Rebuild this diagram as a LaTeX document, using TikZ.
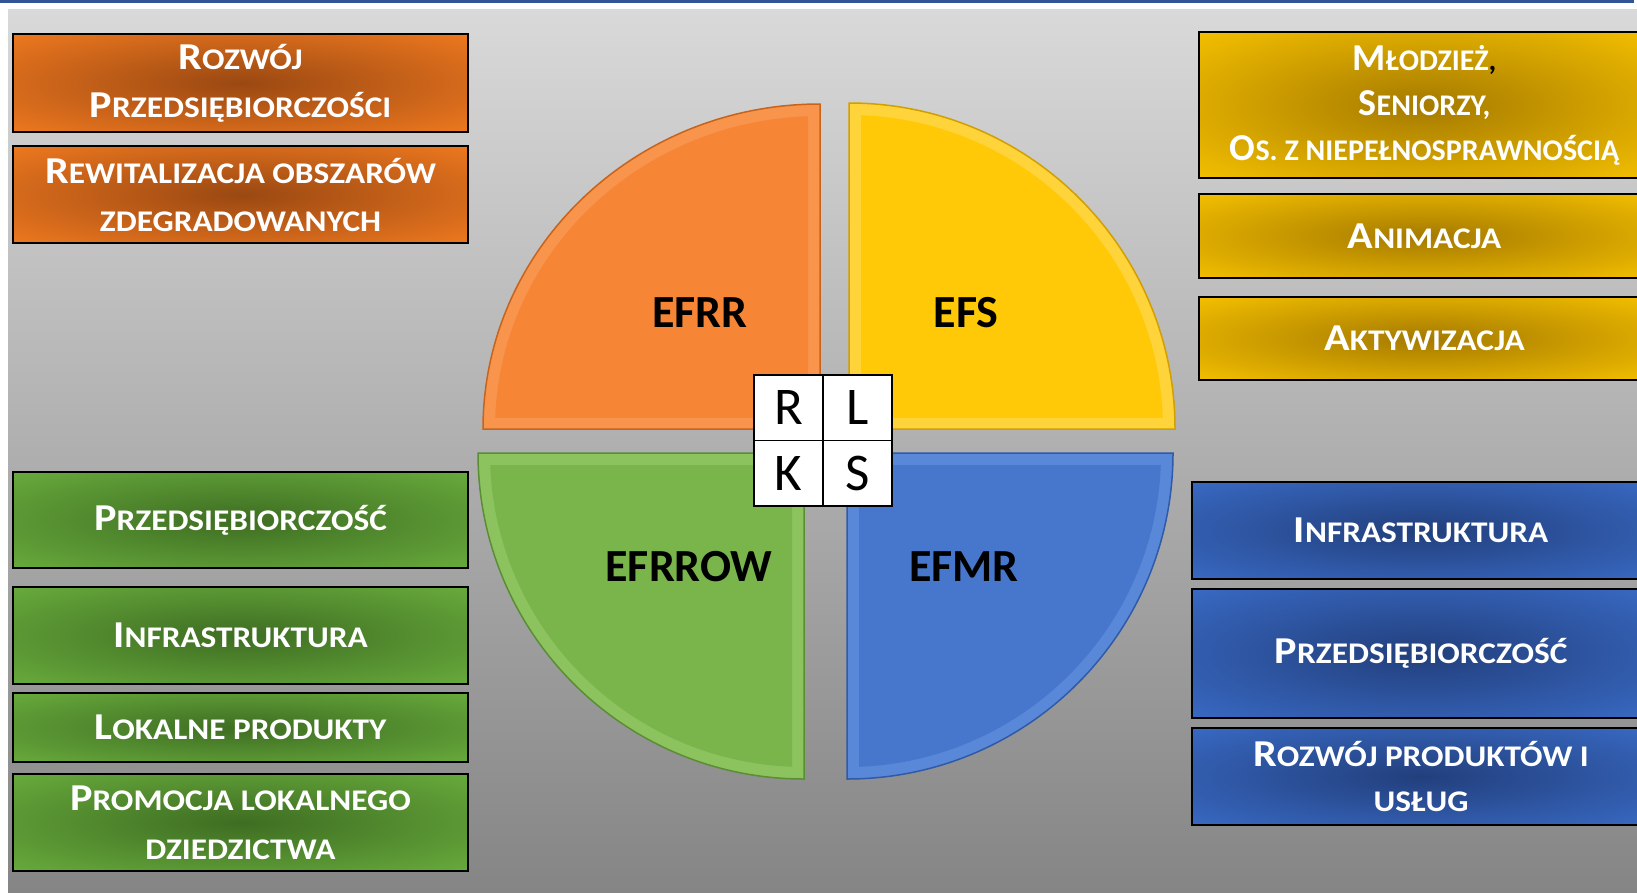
\documentclass[tikz,border=0pt]{standalone}
\usepackage{fontspec}
\setmainfont{Carlito}
\newfontfamily\boxfont[FakeStretch=1.11]{Carlito}

\definecolor{bgTop}{HTML}{D9D9D9}
\definecolor{bgBottom}{HTML}{858585}
\definecolor{topLine}{HTML}{2F5597}

\definecolor{orangeLight}{HTML}{F47C20}
\definecolor{orangeDark}{HTML}{9A4812}
\definecolor{yellowLight}{HTML}{F9C400}
\definecolor{yellowDark}{HTML}{A57A00}
\definecolor{greenLight}{HTML}{6BAF3E}
\definecolor{greenDark}{HTML}{3E6D22}
\definecolor{blueLight}{HTML}{3A6CC8}
\definecolor{blueDark}{HTML}{223F7C}

\definecolor{orangeFace}{HTML}{F68536}
\definecolor{orangeRim}{HTML}{F8944C}
\definecolor{orangeEdge}{HTML}{C8631C}
\definecolor{yellowFace}{HTML}{FFC907}
\definecolor{yellowRim}{HTML}{FFD33A}
\definecolor{yellowEdge}{HTML}{D29F00}
\definecolor{greenFace}{HTML}{79B54B}
\definecolor{greenRim}{HTML}{8CC35F}
\definecolor{greenEdge}{HTML}{5A8E35}
\definecolor{blueFace}{HTML}{4677CD}
\definecolor{blueRim}{HTML}{5A88D8}
\definecolor{blueEdge}{HTML}{2E5AA8}

\pgfdeclareradialshading{orangeGlow}{\pgfpoint{0bp}{0bp}}{color(0bp)=(orangeDark); color(38bp)=(orangeLight); color(72bp)=(orangeLight)}
\pgfdeclareradialshading{yellowGlow}{\pgfpoint{0bp}{0bp}}{color(0bp)=(yellowDark); color(38bp)=(yellowLight); color(72bp)=(yellowLight)}
\pgfdeclareradialshading{greenGlow}{\pgfpoint{0bp}{0bp}}{color(0bp)=(greenDark); color(38bp)=(greenLight); color(72bp)=(greenLight)}
\pgfdeclareradialshading{blueGlow}{\pgfpoint{0bp}{0bp}}{color(0bp)=(blueDark); color(38bp)=(blueLight); color(72bp)=(blueLight)}

\newcommand{\capinitial}[1]{{\fontsize{38}{38}\selectfont #1}}

\begin{document}
\begin{tikzpicture}[x=1pt, y=-1pt]
    \tikzstyle{itembox} = [
      anchor=north,
      align=center,
      draw=black,
      line width=2.4pt,
      inner sep=0pt,
      text=white,
      shade,
      font=\boxfont\bfseries\fontsize{30}{48}\selectfont,
    ]
    \tikzstyle{leftbox} = [
      itembox,
      minimum width=455pt,
    ]
    \tikzstyle{yellowbox} = [
      itembox,
      shading=yellowGlow,
      minimum width=451pt,
    ]
    \tikzstyle{bluebox} = [
      itembox,
      shading=blueGlow,
      minimum width=458pt,
    ]
    \tikzstyle{pielabel} = [
      anchor=center,
      text=black,
      font=\bfseries\fontsize{46}{46}\selectfont,
    ]
    \tikzstyle{cell} = [
      anchor=center,
      draw=black,
      fill=white,
      line width=1.6pt,
      inner sep=0pt,
      minimum width=69pt,
      minimum height=65.5pt,
      font=\fontsize{53}{53}\selectfont,
    ]

    \newcommand{\bevel}[0]{12}

    \useasboundingbox (0,0) rectangle (1637,892);

    % background
    {
      \fill[white] (0,0) rectangle (1637,892);
      \shade[top color=bgTop, bottom color=bgBottom] (8,9) rectangle (1637,892);
      \fill[topLine] (0,0) rectangle (1634,2.5);
    }

    \coordinate (leftAnchor) at (240.5,0);
    \coordinate (yellowAnchor) at (1424.5,0);
    \coordinate (blueAnchor) at (1421,0);

    % EFRR boxes
    {
      \node[leftbox, shading=orangeGlow, minimum height=98pt] (rozwojBox) at ([yshift=-33pt] leftAnchor)
        {\capinitial{R}OZWÓJ\\\capinitial{P}RZEDSIĘBIORCZOŚCI};
      \node[leftbox, shading=orangeGlow, minimum height=97pt] (rewitBox) at ([yshift=-145pt] leftAnchor)
        {\capinitial{R}EWITALIZACJA OBSZARÓW\\ZDEGRADOWANYCH};
    }

    % EFS boxes
    {
      \node[yellowbox, minimum height=146pt, font=\bfseries\fontsize{30}{45}\selectfont] (mlodziezBox) at ([yshift=-31pt] yellowAnchor)
        {\capinitial{M}ŁODZIEŻ\textcolor{black}{,}\\\capinitial{S}ENIORZY,\\\capinitial{O}S. Z NIEPEŁNOSPRAWNOŚCIĄ};
      \node[yellowbox, minimum height=84pt] (animBox) at ([yshift=-193pt] yellowAnchor) {\capinitial{A}NIMACJA};
      \node[yellowbox, minimum height=83pt] (aktywBox) at ([yshift=-296pt] yellowAnchor) {\capinitial{A}KTYWIZACJA};
    }

    % EFRROW boxes
    {
      \node[leftbox, shading=greenGlow, minimum height=96pt] (przedGreenBox) at ([yshift=-471pt] leftAnchor) {\capinitial{P}RZEDSIĘBIORCZOŚĆ};
      \node[leftbox, shading=greenGlow, minimum height=97pt] (infraGreenBox) at ([yshift=-586pt] leftAnchor) {\capinitial{I}NFRASTRUKTURA};
      \node[leftbox, shading=greenGlow, minimum height=69pt] (lokalneBox) at ([yshift=-692pt] leftAnchor) {\capinitial{L}OKALNE PRODUKTY};
      \node[leftbox, shading=greenGlow, minimum height=97pt, font=\boxfont\bfseries\fontsize{30}{49}\selectfont] (promocjaBox) at ([yshift=-773pt] leftAnchor)
        {\capinitial{P}ROMOCJA LOKALNEGO\\DZIEDZICTWA};
    }

    % EFMR boxes
    {
      \node[bluebox, minimum height=97pt] (infraBlueBox) at ([yshift=-481pt] blueAnchor) {\capinitial{I}NFRASTRUKTURA};
      \node[bluebox, minimum height=129pt] (przedBlueBox) at ([yshift=-588pt] blueAnchor) {\capinitial{P}RZEDSIĘBIORCZOŚĆ};
      \node[bluebox, minimum height=97pt, font=\boxfont\bfseries\fontsize{30}{45}\selectfont] (uslugBox) at ([yshift=-727pt] blueAnchor)
        {\capinitial{R}OZWÓJ PRODUKTÓW I\\USŁUG};
    }

    % EFRR quarter
    {
      \coordinate (efrrCorner) at (820,429);
      \fill[orangeRim, draw=orangeEdge, line width=1.5pt] (efrrCorner) -- ([xshift=-337pt] efrrCorner)
        arc[start angle=180, end angle=270, x radius=337, y radius=325] -- cycle;
      \begin{scope}
        \clip ([xshift=-337pt, yshift=325pt] efrrCorner) rectangle ([xshift=-\bevel pt, yshift=\bevel pt] efrrCorner);
        \fill[orangeFace] (efrrCorner) ellipse[x radius=337-\bevel, y radius=325-\bevel];
      \end{scope}
      \node[pielabel] (efrrLabel) at (700,313) {EFRR};
    }

    % EFS quarter
    {
      \coordinate (efsCorner) at (849,429);
      \fill[yellowRim, draw=yellowEdge, line width=1.5pt] (efsCorner) -- ([yshift=326pt] efsCorner)
        arc[start angle=270, end angle=360, radius=326] -- cycle;
      \begin{scope}
        \clip ([xshift=\bevel pt, yshift=\bevel pt] efsCorner) rectangle ([xshift=326pt, yshift=326pt] efsCorner);
        \fill[yellowFace] (efsCorner) circle[radius=326-\bevel];
      \end{scope}
      \node[pielabel] (efsLabel) at (966,313) {EFS};
    }

    % EFRROW quarter
    {
      \coordinate (efrrowCorner) at (804,453);
      \fill[greenRim, draw=greenEdge, line width=1.5pt] (efrrowCorner) -- ([yshift=-326pt] efrrowCorner)
        arc[start angle=90, end angle=180, radius=326] -- cycle;
      \begin{scope}
        \clip ([xshift=-326pt, yshift=-\bevel pt] efrrowCorner) rectangle ([xshift=-\bevel pt, yshift=-326pt] efrrowCorner);
        \fill[greenFace] (efrrowCorner) circle[radius=326-\bevel];
      \end{scope}
      \node[pielabel] (efrrowLabel) at (689,567) {EFRROW};
    }

    % EFMR quarter
    {
      \coordinate (efmrCorner) at (847,453);
      \fill[blueRim, draw=blueEdge, line width=1.5pt] (efmrCorner) -- ([xshift=326pt] efmrCorner)
        arc[start angle=0, end angle=90, radius=326] -- cycle;
      \begin{scope}
        \clip ([xshift=\bevel pt, yshift=-\bevel pt] efmrCorner) rectangle ([xshift=326pt, yshift=-326pt] efmrCorner);
        \fill[blueFace] (efmrCorner) circle[radius=326-\bevel];
      \end{scope}
      \node[pielabel] (efmrLabel) at (964,567) {EFMR};
    }

    % RLKS
    {
      \coordinate (rlksAnchor) at (823,440.5);
      \node[cell] (cellR) at ([xshift=-34.5pt, yshift=32.75pt] rlksAnchor) {R};
      \node[cell] (cellL) at ([xshift=34.5pt, yshift=32.75pt] rlksAnchor) {L};
      \node[cell] (cellK) at ([xshift=-34.5pt, yshift=-32.75pt] rlksAnchor) {K};
      \node[cell] (cellS) at ([xshift=34.5pt, yshift=-32.75pt] rlksAnchor) {S};
    }
\end{tikzpicture}
\end{document}
